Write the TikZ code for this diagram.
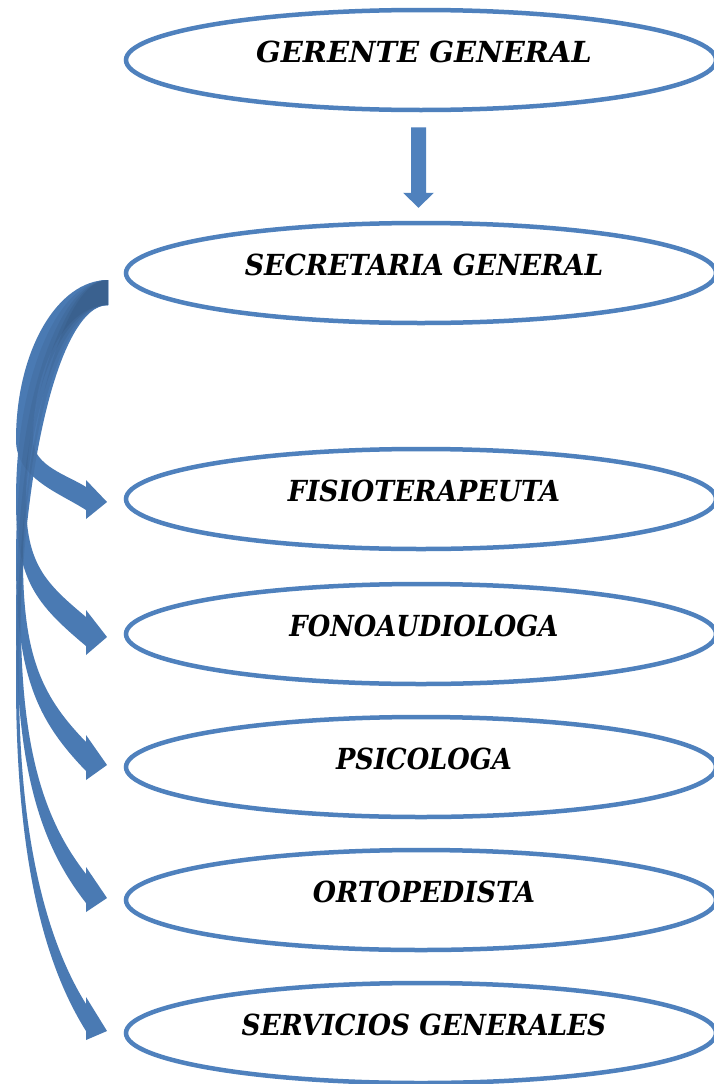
\documentclass[tikz,border=0pt]{standalone}
\usepackage{fontspec}
\usepackage{graphicx}
\setmainfont{DejaVu Serif}
\usetikzlibrary{shapes.geometric,calc}
\definecolor{ofblue}{HTML}{4F81BD}
\tikzset{
  role/.style={ellipse, draw=ofblue, line width=4.5pt, minimum width=590pt, minimum height=100pt,
    inner sep=0pt, text height=10pt, text depth=5pt,
    font=\fontsize{29}{30}\selectfont\bfseries\itshape, text=black},
  arrowbody/.style={fill=ofblue},
  arrowshade/.style={fill=black, fill opacity=0.05},
}
\newcommand\rtext[2]{\hspace*{6pt}\scalebox{#1}[1]{#2}}
% #1 style, #2 head top, #3 head bottom, #4 tip y, #5 angle, #6 mid width, #7 leftmost y
\newcommand\bendarrow[7]{%
 \pgfmathsetmacro\Yo{#3-9}%
 \pgfmathsetmacro\Yi{#2+7}%
 \pgfmathsetmacro\Mo{#7}%
 \pgfmathsetmacro\Mi{#7}%
 \pgfmathsetmacro\Xi{16+#6}%
 \pgfmathsetmacro\Lo{min(0.45*(\Yo-\Mo),70)}%
 \pgfmathsetmacro\Li{min(0.45*(\Yi-\Mi),60)}%
 \path[#1] (108,280) .. controls (57,280) and (16,{\Mo-0.552*(\Mo-280)}) .. (16,\Mo)
   .. controls (16,{\Mo+0.55*(\Yo-\Mo)}) and ({86-\Lo*cos(#5)},{\Yo-\Lo*sin(#5)}) .. (86,\Yo)
   -- (86,#3) -- (107,#4) -- (86,#2) -- (86,\Yi)
   .. controls ({86-\Li*cos(#5)},{\Yi-\Li*sin(#5)}) and (\Xi,{\Mi+0.55*(\Yi-\Mi)}) .. (\Xi,\Mi)
   .. controls (\Xi,{\Mi-0.552*(\Mi-305)}) and ({108-0.552*(108-\Xi)},305) .. (108,305) -- cycle;
}
\begin{document}
\begin{tikzpicture}[x=1pt,y=-1pt]
\useasboundingbox (0,0) rectangle (714,1084);
\fill[white] (0,0) rectangle (714,1084);
% nodes
\node[role] (ger) at (421,60) {\rtext{1.0}{GERENTE GENERAL}};
\node[role] (sec) at (421,273) {\rtext{0.925}{SECRETARIA GENERAL}};
\node[role] (fis) at (421,499) {\rtext{0.92}{FISIOTERAPEUTA}};
\node[role] (fon) at (421,634) {\rtext{0.89}{FONOAUDIOLOGA}};
\node[role] (psi) at (421,767) {\rtext{0.89}{PSICOLOGA}};
\node[role] (ort) at (421,900) {\rtext{0.92}{ORTOPEDISTA}};
\node[role] (ser) at (421,1033) {\rtext{0.91}{SERVICIOS GENERALES}};
% down arrow gerente -> secretaria
\coordinate (dtop) at ($(ger.south)+(-2.5,15)$);
\coordinate (dtip) at ($(sec.north)+(-2.5,-13)$);
\fill[ofblue] ($(dtop)+(-7.5,0)$) -- ($(dtop)+(7.5,0)$) -- ($(dtip)+(7.5,-15)$) -- ($(dtip)+(15.5,-15)$)
  -- (dtip) -- ($(dtip)+(-15.5,-15)$) -- ($(dtip)+(-7.5,-15)$) -- cycle;
% curved arrows secretaria -> roles
\foreach \st in {arrowbody,arrowshade}{
  \bendarrow{\st}{480}{519}{502}{33}{17}{440}
  \bendarrow{\st}{610}{655}{637}{40}{10}{500}
  \bendarrow{\st}{735}{780}{765}{46}{7}{560}
  \bendarrow{\st}{867}{912}{898}{52}{5}{620}
  \bendarrow{\st}{997}{1040}{1031}{58}{3}{680}
}
\end{tikzpicture}
\end{document}
